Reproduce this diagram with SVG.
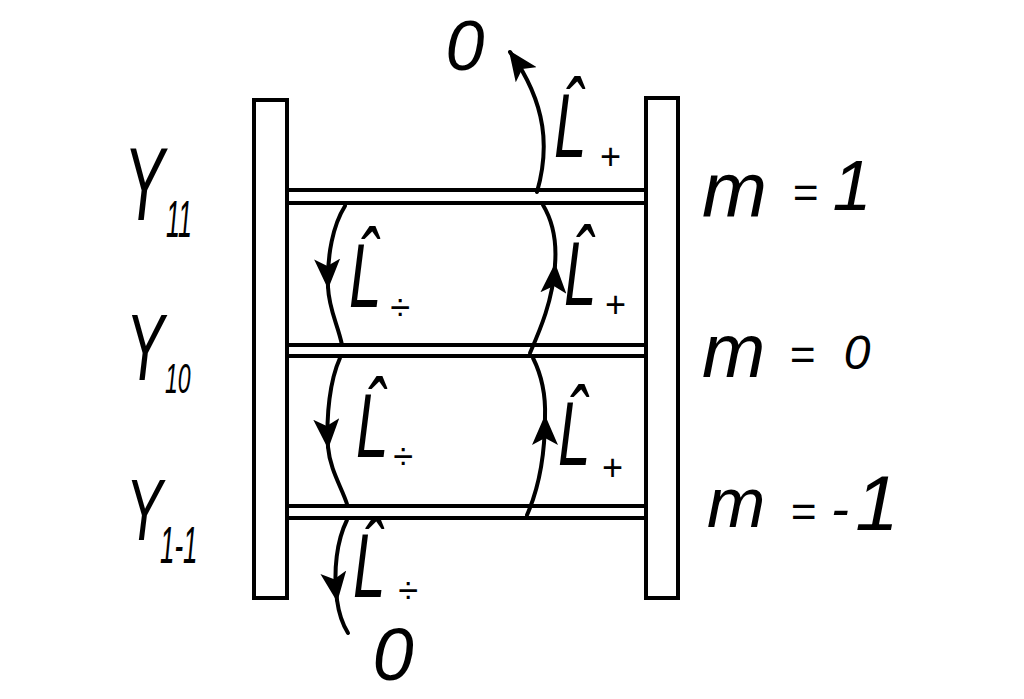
<svg xmlns="http://www.w3.org/2000/svg" width="1024" height="699" viewBox="0 0 1024 699">
<style>
.ln{fill:none;stroke:#000;stroke-width:4;stroke-linecap:round}
.rail{fill:#fff;stroke:#000;stroke-width:4}
.t{font-family:"Liberation Sans",Arial,sans-serif;font-style:italic;fill:#000}
.arc{fill:none;stroke:#000;stroke-width:4;stroke-linecap:round}
</style>
<defs>
<marker id="ah" viewBox="0 0 30 26" refX="28" refY="13" markerWidth="30" markerHeight="26" markerUnits="userSpaceOnUse" orient="auto">
<path d="M0,0 L30,13 L0,26 L7,13 Z" fill="#000"/>
</marker>
</defs>
<rect width="1024" height="699" fill="#fff"/>
<g id="rail-left"><rect class="rail" x="254" y="100" width="33" height="498"/></g>
<g id="rail-right"><rect class="rail" x="646" y="98" width="32" height="500"/></g>
<g id="level-m1">
<line class="ln" x1="287" y1="190" x2="646" y2="190"/>
<line class="ln" x1="287" y1="203" x2="646" y2="203"/>
<text class="t" font-size="104" transform="translate(124,220) scale(0.58,1)">Y</text>
<text class="t" font-size="52" transform="translate(166,237) scale(0.48,1)">11</text>
<text class="t" font-size="78" x="702" y="217">m</text>
<text class="t" font-size="44" x="805" y="208" text-anchor="middle">=</text>
<text class="t" font-size="70" x="852" y="210" text-anchor="middle">1</text>
</g>
<g id="level-m0">
<line class="ln" x1="287" y1="345" x2="646" y2="345"/>
<line class="ln" x1="287" y1="356" x2="646" y2="356"/>
<text class="t" font-size="95" transform="translate(126,380) scale(0.6,1)">Y</text>
<text class="t" font-size="42" transform="translate(165,393) scale(0.55,1)">10</text>
<text class="t" font-size="76" x="702" y="377">m</text>
<text class="t" font-size="44" x="802" y="370" text-anchor="middle">=</text>
<text class="t" font-size="48" x="857" y="369" text-anchor="middle">0</text>
</g>
<g id="level-mminus1">
<line class="ln" x1="287" y1="506" x2="646" y2="506"/>
<line class="ln" x1="287" y1="518" x2="646" y2="518"/>
<text class="t" font-size="88" transform="translate(126,540) scale(0.62,1)">Y</text>
<text class="t" font-size="52" transform="translate(160,563) scale(0.5,1)">1-1</text>
<text class="t" font-size="70" x="707" y="527">m</text>
<text class="t" font-size="44" x="803" y="527" text-anchor="middle">=</text>
<text class="t" font-size="54" x="840" y="527" text-anchor="middle">-</text>
<text class="t" font-size="78" x="877" y="530" text-anchor="middle">1</text>
</g>
<g id="zero-top"><text class="t" font-size="70" x="465" y="70" text-anchor="middle">0</text></g>
<g id="zero-bottom"><text class="t" font-size="74" x="393" y="680" text-anchor="middle">0</text></g>
<g id="connectors">
<path class="arc" d="M537,192 C549,150 548,105 510,52" marker-end="url(#ah)"/>
<path class="arc" d="M530,353 C540,330 553,300 555,265" marker-end="url(#ah)"/>
<path class="arc" d="M555,265 C557,240 552,220 543,205"/>
<path class="arc" d="M527,515 C538,490 545,455 545,417" marker-end="url(#ah)"/>
<path class="arc" d="M545,417 C546,390 540,372 533,358"/>
<path class="arc" d="M345,206 C333,225 327,255 328,287" marker-end="url(#ah)"/>
<path class="arc" d="M328,287 C329,310 338,325 342,345"/>
<path class="arc" d="M340,358 C330,380 326,415 328,447" marker-end="url(#ah)"/>
<path class="arc" d="M328,447 C330,470 342,488 347,504"/>
<path class="arc" d="M347,520 C337,540 333,570 337,600" marker-end="url(#ah)"/>
<path class="arc" d="M337,600 C339,615 343,625 348,633"/>
</g>
<g id="labels">
<text class="t" font-size="90" transform="translate(554,157) scale(0.65,1)">L̂</text>
<text class="t" font-size="36" x="610" y="169" text-anchor="middle">+</text>
<text class="t" font-size="90" transform="translate(564,305) scale(0.65,1)">L̂</text>
<text class="t" font-size="36" x="615" y="317" text-anchor="middle">+</text>
<text class="t" font-size="90" transform="translate(349,307) scale(0.65,1)">L̂</text>
<text class="t" font-size="36" x="400" y="320" text-anchor="middle">÷</text>
<text class="t" font-size="90" transform="translate(558,465) scale(0.65,1)">L̂</text>
<text class="t" font-size="36" x="612" y="480" text-anchor="middle">+</text>
<text class="t" font-size="90" transform="translate(356,457) scale(0.65,1)">L̂</text>
<text class="t" font-size="36" x="403" y="469" text-anchor="middle">÷</text>
<text class="t" font-size="90" transform="translate(353,597) scale(0.65,1)">L̂</text>
<text class="t" font-size="36" x="408" y="603" text-anchor="middle">÷</text>
</g>
</svg>
